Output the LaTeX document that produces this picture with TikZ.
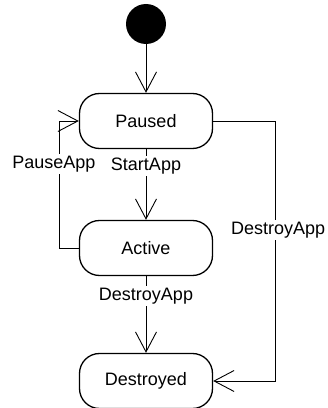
\documentclass[tikz,border=0pt]{standalone}
\usepackage{fontspec}
\setmainfont{Liberation Sans}
\usetikzlibrary{arrows.meta}

\begin{document}
\begin{tikzpicture}[x=1pt, y=1pt,
        state/.style={draw, line width=1.3pt, rounded corners=20pt, minimum width=133pt, minimum height=55pt, font=\fontsize{18}{20}\selectfont},
        trans/.style={line width=0.9pt, -{Straight Barb[length=20pt, width=21pt, line width=0.9pt]}},
        lbl/.style={fill=white, inner sep=2pt, font=\fontsize{18}{20}\selectfont}]
        \useasboundingbox (0,0) rectangle (328,408);

        % --- Stato iniziale e stati ---
        \node[circle, fill=black, minimum size=40pt, inner sep=0pt] (init) at (146,384) {};
        \node[state] (paused) at (146,287) {Paused};
        \node[state] (active) at (146,160) {Active};
        \node[state] (destroyed) at (146,27) {Destroyed};

        % --- Transizioni verticali ---
        \draw[trans] (init) -- (paused);
        \draw[trans] (paused) -- node[lbl, pos=0.24] {StartApp} (active);
        \draw[trans] (active) -- node[lbl, pos=0.26] {DestroyApp} (destroyed);

        % --- Ritorno a sinistra (Active -> Paused) ---
        \draw[trans] (active.west) -- ++(-19,0) |- node[lbl, pos=0.33, xshift=-6pt] {PauseApp} (paused.west);

        % --- Ramo a destra (Paused -> Destroyed) ---
        \draw[trans] (paused.east) -- ++(62,0) |- node[lbl, pos=0.21, xshift=3pt] {DestroyApp} (destroyed.east);
    \end{tikzpicture}
\end{document}
